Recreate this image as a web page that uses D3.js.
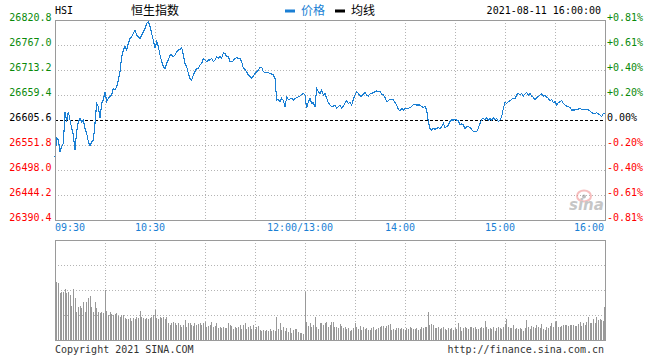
<!DOCTYPE html>
<html><head><meta charset="utf-8">
<script src="https://cdn.jsdelivr.net/npm/d3@7/dist/d3.min.js"></script>
<style>
html,body{margin:0;padding:0;background:#fff;}
svg{display:block;}
.mono{font-family:"DejaVu Sans Mono","Liberation Mono",monospace;font-size:10px;}
.cjk{font-family:"Noto Sans CJK SC",sans-serif;font-size:12px;}
</style></head><body>
<svg id="c" width="660" height="360"></svg>
<script>
// ---------- data ----------
const symbol = "HSI";
const title = "恒生指数";
const dateText = "2021-08-11 16:00:00";
const prevClose = 26605.6;
const priceTicks = [26820.8, 26767.0, 26713.2, 26659.4, 26605.6, 26551.8, 26498.0, 26444.2, 26390.4];
const pctTicks = ["+0.81%", "+0.61%", "+0.40%", "+0.20%", "0.00%", "-0.20%", "-0.40%", "-0.61%", "-0.81%"];
const timeLabels = ["09:30", "10:30", "12:00/13:00", "14:00", "15:00", "16:00"];
const timeLabelMinutes = [0, 60, 150, 210, 270, 330];
const gridMinutes = [30, 60, 90, 120, 150, 180, 210, 240, 270, 300];
const totalMinutes = 330;
// minute-by-minute index price (09:30 .. 12:00, 13:00 .. 16:00)
const prices = [
26526.7,26566.1,26562.6,26537.4,26548.2,26555.4,26623.5,26602.0,26623.5,26605.6,
26587.7,26573.3,26541.0,26580.5,26602.0,26609.2,26602.0,26605.6,26587.7,26576.9,
26559.0,26549.6,26559.0,26562.6,26598.4,26641.5,26634.3,26609.2,26641.5,26648.6,
26666.6,26645.0,26652.2,26655.8,26659.4,26673.7,26670.1,26677.3,26691.7,26709.6,
26741.9,26756.2,26763.4,26756.2,26770.6,26781.3,26784.9,26792.1,26799.3,26788.5,
26784.9,26781.3,26788.5,26795.7,26802.8,26813.6,26817.2,26806.4,26792.1,26777.7,
26759.8,26774.2,26763.4,26745.5,26731.1,26720.4,26716.8,26727.5,26734.7,26745.5,
26745.5,26741.9,26745.5,26752.6,26756.2,26757.7,26762.0,26745.5,26727.5,26720.4,
26706.0,26695.3,26691.7,26702.4,26709.6,26716.8,26716.8,26723.9,26727.5,26738.3,
26734.7,26731.1,26734.7,26734.7,26738.3,26731.1,26734.7,26741.9,26738.3,26741.9,
26738.3,26750.5,26749.1,26741.9,26741.9,26731.1,26731.1,26733.3,26738.3,26739.7,
26738.3,26738.3,26731.1,26716.8,26714.6,26709.6,26702.4,26698.8,26695.3,26700.3,
26706.0,26709.6,26713.2,26718.9,26718.9,26709.6,26707.4,26707.4,26707.4,26706.0,
26704.6,26702.4,26695.2,26648.6,26650.1,26645.0,26652.2,26647.2,26634.3,26654.4,
26650.1,26650.8,26652.2,26648.6,26652.2,26653.6,26655.8,26657.2,26660.1,26663.0,
26659.4,26630.7,26645.0,26652.2,26641.5,26642.9,26634.3,26673.7,26666.6,26663.0,
26670.1,26659.4,26663.0,26652.2,26642.9,26637.9,26634.3,26635.7,26637.9,26630.7,
26634.3,26637.9,26630.7,26635.7,26641.5,26647.2,26641.5,26642.9,26637.9,26650.1,
26659.4,26666.6,26663.0,26657.2,26657.2,26660.8,26664.4,26659.4,26657.2,26661.5,
26663.0,26664.4,26666.6,26668.0,26666.6,26666.6,26661.5,26659.4,26654.4,26645.0,
26647.2,26650.1,26650.1,26648.6,26642.9,26637.9,26628.5,26625.7,26630.7,26627.1,
26630.7,26630.7,26630.7,26632.8,26634.3,26639.3,26640.0,26637.9,26637.9,26637.9,
26634.3,26632.8,26634.3,26627.1,26602.0,26587.7,26584.1,26587.7,26585.5,26587.7,
26589.1,26587.7,26591.2,26598.4,26589.8,26591.2,26594.8,26602.0,26605.6,26605.6,
26607.0,26605.6,26603.4,26594.8,26597.0,26594.8,26587.7,26591.2,26591.2,26589.1,
26585.5,26580.5,26580.5,26580.5,26587.7,26598.4,26607.0,26609.2,26605.6,26610.6,
26605.6,26609.2,26605.6,26611.3,26605.6,26609.2,26602.0,26605.6,26612.8,26630.7,
26642.9,26641.5,26645.0,26647.2,26650.1,26652.2,26652.2,26659.4,26663.0,26659.4,
26663.0,26657.2,26661.5,26665.1,26659.4,26663.0,26657.2,26654.4,26648.6,26654.4,
26655.8,26659.4,26661.5,26657.2,26659.4,26654.4,26652.2,26647.2,26650.1,26642.9,
26645.0,26637.9,26642.9,26645.0,26647.2,26641.5,26637.9,26635.7,26634.3,26632.1,
26627.1,26627.1,26627.1,26628.5,26629.3,26630.0,26628.5,26628.5,26627.1,26627.8,
26627.1,26625.0,26621.4,26619.9,26619.9,26621.4,26618.5,26616.3,26612.8,26619.9,
26619.9
];
// minute volume (relative units)
const volumes = [
56,58,57,47,48,48,51,47,48,45,34,51,42,28,33,34,32,38,28,38,
42,44,33,28,38,32,28,27,28,27,50,29,25,28,26,25,26,27,24,23,
25,25,22,21,21,22,19,22,21,23,22,29,23,22,21,22,21,22,23,25,
30,22,21,23,22,23,21,23,17,15,17,18,17,15,17,15,13,15,20,13,
17,17,15,14,17,15,16,17,15,17,18,13,14,15,18,13,14,17,12,13,
12,13,12,12,17,15,14,11,13,12,13,15,11,15,17,11,13,14,11,15,
11,13,14,10,9,10,9,10,9,11,9,10,9,23,11,17,10,13,9,12,
8,12,7,10,11,11,8,7,7,6,48,18,14,17,13,15,23,13,11,17,
17,15,17,18,13,15,18,18,13,13,12,16,14,12,13,11,12,9,10,12,
17,13,11,14,10,13,11,12,10,10,12,13,10,11,12,13,14,14,12,14,
15,16,10,11,10,12,12,11,12,11,10,12,11,13,12,11,11,12,10,11,
13,12,13,13,28,15,16,15,12,12,13,11,12,13,11,10,12,11,12,10,
12,11,17,13,9,12,13,12,11,13,13,12,13,11,11,12,13,12,19,13,
11,12,11,13,9,12,13,12,11,13,16,21,13,12,12,15,11,12,11,12,
11,9,12,20,13,11,14,13,12,15,13,12,16,11,10,13,12,14,17,13,
18,19,13,13,14,15,15,15,14,15,15,15,14,14,16,18,14,17,15,18,
23,17,17,21,17,23,20,21,20,19,33
];

// ---------- layout ----------
const svg = d3.select("#c");
const L = 55, R = 605, T = 20, B = 220, VT = 240, VB = 340;
const BLUE = "#1a7fd4", GREY = "#9a9a9a", GRID = "#b4b4b4";
const GREEN = "#0a8a0a", RED = "#ff0000";

const x = d3.scaleLinear().domain([0, totalMinutes]).range([L, R]);
const y = d3.scaleLinear().domain([priceTicks[priceTicks.length-1], priceTicks[0]]).range([B, T]);
const vy = d3.scaleLinear().domain([0, 100]).range([VB, VT]);
const vGrid = [25, 50, 75];

const tickColor = i => i < 4 ? GREEN : (i === 4 ? "#000" : RED);

// header
svg.append("text").attr("class","mono").attr("x",L).attr("y",13.5).attr("fill","#000").text(symbol);
svg.append("text").attr("class","cjk").attr("x",155).attr("y",14.5).attr("text-anchor","middle").attr("fill","#000").text(title);
svg.append("rect").attr("x",285).attr("y",9.5).attr("width",10).attr("height",3).attr("fill",BLUE);
svg.append("text").attr("class","cjk").attr("x",301).attr("y",14.5).attr("fill",BLUE).text("价格");
svg.append("rect").attr("x",335).attr("y",9.5).attr("width",10).attr("height",3).attr("fill","#000");
svg.append("text").attr("class","cjk").attr("x",351).attr("y",14.5).attr("fill","#000").text("均线");
svg.append("text").attr("class","mono").attr("x",601).attr("y",13.5).attr("text-anchor","end").attr("fill","#000").text(dateText);

// main grid
const g = svg.append("g").attr("shape-rendering","crispEdges");
g.selectAll(".hg").data(priceTicks.slice(1, -1)).enter().append("line")
  .attr("x1",L).attr("x2",R).attr("y1",d=>Math.round(y(d))+0.5).attr("y2",d=>Math.round(y(d))+0.5)
  .attr("stroke",d=>d===prevClose?"none":GRID).attr("stroke-dasharray","1,2");
g.selectAll(".vg").data(gridMinutes).enter().append("line")
  .attr("x1",d=>Math.round(x(d))+0.5).attr("x2",d=>Math.round(x(d))+0.5).attr("y1",T).attr("y2",B)
  .attr("stroke",GRID).attr("stroke-dasharray","1,2");

// sina watermark
const wm = svg.append("g").attr("opacity",0.55);
wm.append("ellipse").attr("cx",584).attr("cy",196).attr("rx",7).attr("ry",5.5).attr("fill","none").attr("stroke","#f08a8a").attr("stroke-width",2);
wm.append("circle").attr("cx",584).attr("cy",196.5).attr("r",2).attr("fill","#888");
wm.append("text").attr("x",569).attr("y",210).attr("font-family","DejaVu Sans,sans-serif").attr("font-style","italic").attr("font-weight","bold").attr("font-size",15).attr("fill","#999").text("sina");

// previous close line
svg.append("line").attr("x1",L).attr("x2",R).attr("y1",Math.round(y(prevClose))+0.5).attr("y2",Math.round(y(prevClose))+0.5)
  .attr("stroke","#000").attr("stroke-dasharray","3,2").attr("shape-rendering","crispEdges");

// price line
const line = d3.line().x((d,i)=>x(i)).y(d=>y(d));
svg.append("path").datum(prices).attr("d",line).attr("fill","none").attr("stroke",BLUE)
  .attr("stroke-width",1.1).attr("shape-rendering","crispEdges");

// main frame
svg.append("rect").attr("x",L+0.5).attr("y",T+0.5).attr("width",R-L).attr("height",B-T)
  .attr("fill","none").attr("stroke",GREY).attr("shape-rendering","crispEdges");

// left axis
const la = svg.append("g").attr("transform",`translate(${L},0)`)
  .call(d3.axisLeft(y).tickValues(priceTicks).tickSize(0).tickPadding(3.5).tickFormat(d3.format(".1f")));
la.select(".domain").remove();
la.selectAll("text").attr("class","mono").attr("dy",null).attr("y",0.5).attr("font-family",null).attr("font-size",null)
  .attr("fill",(d,i)=>tickColor(i));

// right axis
const ra = svg.append("g").attr("transform",`translate(${R},0)`)
  .call(d3.axisRight(y).tickValues(priceTicks).tickSize(0).tickPadding(2).tickFormat((d,i)=>pctTicks[i]));
ra.select(".domain").remove();
ra.selectAll("text").attr("class","mono").attr("dy",null).attr("y",0.5).attr("font-family",null).attr("font-size",null)
  .attr("fill",(d,i)=>tickColor(i));

// time labels
svg.selectAll(".tl").data(timeLabels).enter().append("text").attr("class","mono")
  .attr("x",(d,i)=> i===0 ? L : (i===timeLabels.length-1 ? R-1 : x(timeLabelMinutes[i])-5))
  .attr("y",231).attr("text-anchor",(d,i)=> i===0 ? "start" : (i===timeLabels.length-1 ? "end" : "middle"))
  .attr("fill",BLUE).text(d=>d);

// volume panel grid
const vg = svg.append("g").attr("shape-rendering","crispEdges");
vg.selectAll(".vh").data(vGrid).enter().append("line")
  .attr("x1",L).attr("x2",R).attr("y1",d=>Math.round(vy(d))+0.5).attr("y2",d=>Math.round(vy(d))+0.5)
  .attr("stroke",GRID).attr("stroke-dasharray","1,2");
vg.selectAll(".vv").data(gridMinutes).enter().append("line")
  .attr("x1",d=>Math.round(x(d))+0.5).attr("x2",d=>Math.round(x(d))+0.5).attr("y1",VT).attr("y2",VB)
  .attr("stroke",GRID).attr("stroke-dasharray","1,2");

// volume bars
svg.append("g").attr("shape-rendering","crispEdges").selectAll("rect").data(volumes).enter().append("rect")
  .attr("x",(d,i)=>Math.floor(x(i)) - (i===totalMinutes?1:0)).attr("width",1)
  .attr("y",d=>vy(d)).attr("height",d=>VB-vy(d)).attr("fill","#999");

// volume frame
svg.append("rect").attr("x",L+0.5).attr("y",VT+0.5).attr("width",R-L).attr("height",VB-VT)
  .attr("fill","none").attr("stroke",GREY).attr("shape-rendering","crispEdges");

// footer
svg.append("text").attr("class","mono").attr("x",L).attr("y",352.5).attr("fill","#333").text("Copyright 2021 SINA.COM");
svg.append("text").attr("class","mono").attr("x",604).attr("y",352.5).attr("text-anchor","end").attr("fill","#333").text("http://finance.sina.com.cn");
</script>
</body></html>
